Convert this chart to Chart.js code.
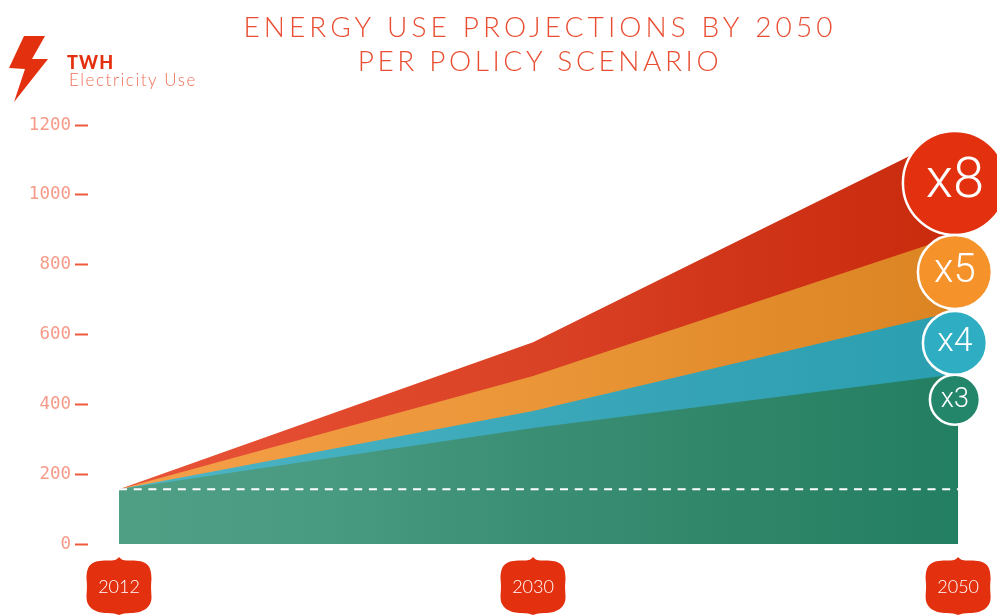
<!DOCTYPE html>
<html>
<head>
<meta charset="utf-8">
<title>Energy use projections by 2050</title>
<script src="https://cdn.jsdelivr.net/npm/chart.js@4"></script>
<style>
    html, body { margin: 0; padding: 0; background: #fff; overflow: hidden; }
    canvas { display: block; }
</style>
</head>
<body>
<canvas id="energyChart" width="997" height="615"></canvas>
<script>
const years = ['2012', '2030', '2050'];
// the picture does not space its years evenly, so each year gets its own stop on the axis
const yearStops = [0, 18, 36.48];
const yTicks = [0, 200, 400, 600, 800, 1000, 1200];

const scenarioX3 = [157, 332, 487];
const scenarioX4 = [157, 381, 668];
const scenarioX5 = [157, 481, 885];
const scenarioX8 = [157, 578, 1180];
const today = [157, 157, 157];

const badgeLabels = ['x8', 'x5', 'x4', 'x3'];
const badgeValues = [1034, 779, 576, 413];

const toPoints = values => values.map((v, i) => ({ x: yearStops[i], y: v }));

const badgeRadius = [52, 37, 32, 25];
const badgeFont = [56, 40, 34, 27];

function bandFill(stops) {
    return function(context) {
        const chart = context.chart;
        const xScale = chart.scales.x;
        const x0 = xScale ? xScale.getPixelForValue(yearStops[0]) : NaN;
        const x1 = xScale ? xScale.getPixelForValue(yearStops[2]) : NaN;
        if (!chart.chartArea || !isFinite(x0) || !isFinite(x1)) return stops[0];
        const g = chart.ctx.createLinearGradient(x0, 0, x1, 0);
        stops.forEach((c, i) => g.addColorStop(i / (stops.length - 1), c));
        return g;
    };
}

// header, bolt and the red year tags sit behind everything else
const decorations = {
    id: 'decorations',
    beforeDraw(chart) {
        const ctx = chart.ctx;
        ctx.save();
        ctx.fillStyle = '#e3300f';
        ctx.beginPath();
        [[24, 36], [45, 36], [32, 59], [48, 59], [14, 102], [25, 69], [9, 68]].forEach((p, i) => {
            if (i === 0) ctx.moveTo(p[0], p[1]); else ctx.lineTo(p[0], p[1]);
        });
        ctx.closePath();
        ctx.fill();

        ctx.textBaseline = 'alphabetic';
        ctx.textAlign = 'center';
        ctx.fillStyle = '#e94e32';
        ctx.font = '300 28px Lato';
        ctx.letterSpacing = '4.1px';
        ctx.fillText('ENERGY USE PROJECTIONS BY 2050', 540, 37);
        ctx.letterSpacing = '3.6px';
        ctx.fillText('PER POLICY SCENARIO', 540, 71);

        ctx.textAlign = 'left';
        ctx.fillStyle = '#e3300f';
        ctx.font = '900 18px Lato';
        ctx.letterSpacing = '1.2px';
        ctx.fillText('TWH', 67, 69);
        ctx.fillStyle = '#ee6f58';
        ctx.font = '300 17px Lato';
        ctx.letterSpacing = '1.55px';
        ctx.fillText('Electricity Use', 69, 86);
        ctx.letterSpacing = '0px';

        const xScale = chart.scales.x;
        ctx.fillStyle = '#e3300f';
        yearStops.forEach(stop => {
            const cx = xScale.getPixelForValue(stop);
            const top = 557, bottom = 615, w = 32.5;
            ctx.beginPath();
            ctx.moveTo(cx, top);
            ctx.quadraticCurveTo(cx + 3, top + 4, cx + 9, top + 3.5);
            ctx.bezierCurveTo(cx + 26, top + 3, cx + w, top + 6, cx + w, top + 22);
            ctx.bezierCurveTo(cx + w - 1, top + 30, cx + w, top + 36, cx + w, top + 40);
            ctx.bezierCurveTo(cx + w, top + 52, cx + 22, bottom - 2, cx + 12, bottom - 2);
            ctx.quadraticCurveTo(cx + 4, bottom - 2, cx, bottom);
            ctx.quadraticCurveTo(cx - 4, bottom - 2, cx - 12, bottom - 2);
            ctx.bezierCurveTo(cx - 22, bottom - 2, cx - w, top + 52, cx - w, top + 40);
            ctx.bezierCurveTo(cx - w, top + 36, cx - w + 1, top + 30, cx - w, top + 22);
            ctx.bezierCurveTo(cx - w, top + 6, cx - 26, top + 3, cx - 9, top + 3.5);
            ctx.quadraticCurveTo(cx - 3, top + 4, cx, top);
            ctx.closePath();
            ctx.fill();
        });
        ctx.restore();
    },
    afterDatasetsDraw(chart) {
        const ctx = chart.ctx;
        const points = chart.getDatasetMeta(0).data;
        ctx.save();
        ctx.fillStyle = '#fff';
        ctx.textAlign = 'center';
        ctx.textBaseline = 'middle';
        points.forEach((p, i) => {
            ctx.font = '300 ' + badgeFont[i] + 'px Roboto';
            ctx.fillText(badgeLabels[i], p.x, p.y);
        });
        ctx.restore();
    }
};

const chart = new Chart(document.getElementById('energyChart').getContext('2d'), {
    data: {
        datasets: [
            {
                type: 'bubble',
                label: 'Multiplier',
                data: badgeValues.map((v, i) => ({ x: yearStops[2] - 0.14, y: v, r: badgeRadius[i] })),
                backgroundColor: ['#e3300f', '#f5922a', '#2fadc2', '#23856a'],
                borderColor: '#fff',
                borderWidth: 2.5,
                clip: false,
                order: 0
            },
            {
                type: 'line',
                label: 'Today',
                data: toPoints(today),
                borderColor: '#fff',
                borderWidth: 2,
                borderDash: [8, 6.7],
                pointRadius: 0,
                fill: false,
                order: 1
            },
            {
                type: 'line',
                label: 'x3',
                data: toPoints(scenarioX3),
                borderWidth: 0,
                pointRadius: 0,
                fill: 'origin',
                backgroundColor: bandFill(['#4f9f85', '#489a80', '#3a8e74', '#2f8568', '#237f62']),
                order: 2
            },
            {
                type: 'line',
                label: 'x4',
                data: toPoints(scenarioX4),
                borderWidth: 0,
                pointRadius: 0,
                fill: 'origin',
                backgroundColor: bandFill(['#4fb5c5', '#44afbf', '#3ba8ba', '#33a2b4', '#2a9fb0']),
                order: 3
            },
            {
                type: 'line',
                label: 'x5',
                data: toPoints(scenarioX5),
                borderWidth: 0,
                pointRadius: 0,
                fill: 'origin',
                backgroundColor: bandFill(['#f5a04a', '#f09a40', '#ea9638', '#e28c2c', '#dc8422']),
                order: 4
            },
            {
                type: 'line',
                label: 'x8',
                data: toPoints(scenarioX8),
                borderWidth: 0,
                pointRadius: 0,
                fill: 'origin',
                backgroundColor: bandFill(['#e8553a', '#e24a2e', '#da4226', '#d03418', '#c92a0c']),
                order: 5
            }
        ]
    },
    options: {
        responsive: false,
        animation: false,
        layout: { autoPadding: false, padding: { top: 125 } },
        plugins: {
            legend: { display: false },
            title: { display: false },
            tooltip: { enabled: false }
        },
        scales: {
            x: {
                type: 'linear',
                min: -1.348,
                max: 38.17,
                grid: { display: false },
                border: { display: false },
                afterBuildTicks(scale) {
                    scale.ticks = yearStops.map(v => ({ value: v }));
                },
                afterFit(scale) {
                    scale.height = 71;
                    // otherwise the last tick label pulls the right edge of the plot in
                    scale.paddingLeft = 0;
                    scale.paddingRight = 0;
                },
                ticks: {
                    padding: 24,
                    maxRotation: 0,
                    autoSkip: false,
                    color: '#fff',
                    font: { family: 'Lato', size: 18, weight: '300' },
                    callback: function(value) {
                        return years[yearStops.indexOf(value)];
                    }
                }
            },
            y: {
                min: 0,
                max: 1200,
                afterBuildTicks(scale) {
                    scale.ticks = yTicks.map(v => ({ value: v }));
                },
                afterFit(scale) { scale.width = 88; },
                border: { display: false },
                grid: {
                    drawOnChartArea: false,
                    tickLength: 13,
                    tickWidth: 2,
                    tickColor: '#ef5a3c'
                },
                ticks: {
                    padding: 4,
                    color: '#f79a88',
                    font: { family: 'DejaVu Sans Mono', size: 17.5 },
                    callback: function(value) {
                        return String(value);
                    }
                }
            }
        }
    },
    plugins: [decorations]
});
</script>
</body>
</html>
